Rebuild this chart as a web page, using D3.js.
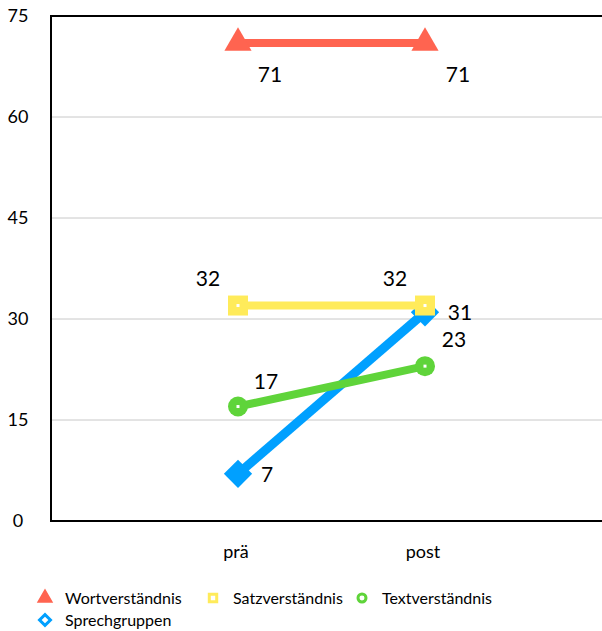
<!DOCTYPE html>
<html>
<head>
<meta charset="utf-8">
<script src="https://cdn.jsdelivr.net/npm/d3@7"></script>
<style>
  body { margin: 0; background: #fff; }
  text { font-family: Lato, "Open Sans", sans-serif; fill: #000; }
</style>
</head>
<body>
<svg id="chart" width="602" height="631"></svg>
<script>
// data
var categories = ['prä', 'post'];
var seriesNames = ['Wortverständnis', 'Satzverständnis', 'Textverständnis', 'Sprechgruppen'];
var wortValues = [71, 71];
var satzValues = [32, 32];
var textValues = [17, 23];
var sprechValues = [7, 31];
var yTicks = [0, 15, 30, 45, 60, 75];

var colors = ['#ff6450', '#ffeb5a', '#5fd43a', '#00a0ff'];
var symbols = [d3.symbolTriangle, d3.symbolSquare, d3.symbolCircle, d3.symbolSquare];
var rotations = [0, 0, 0, 45];
var markerSizes = [320, 400, 314, 400];
var allValues = [wortValues, satzValues, textValues, sprechValues];
// label offsets per series (dx, dy per point)
var labelOffsets = [
  [[32, 39], [33, 39]],
  [[-30, -20], [-30, -20]],
  [[28, -18], [29, -19]],
  [[29, 8], [35, 8]]
];
// Sprechgruppen sits under the others
var drawOrder = [3, 0, 1, 2];

var svg = d3.select('#chart');
var plotLeft = 51, plotRight = 612, plotTop = 16, plotBottom = 521;

var x = d3.scalePoint().domain(categories).range([plotLeft, plotRight]).padding(1);
var y = d3.scaleLinear().domain([0, 75]).range([plotBottom, plotTop]);

// gridlines
svg.append('g').selectAll('line')
    .data(yTicks.filter(function(d) { return d > 0 && d < 75; }))
    .enter().append('line')
    .attr('x1', plotLeft).attr('x2', plotRight)
    .attr('y1', function(d) { return y(d); })
    .attr('y2', function(d) { return y(d); })
    .attr('stroke', '#c8c8c8')
    .attr('stroke-width', 1);

// frame
svg.append('rect')
    .attr('x', plotLeft).attr('y', plotTop)
    .attr('width', plotRight - plotLeft).attr('height', plotBottom - plotTop)
    .attr('fill', 'none')
    .attr('stroke', '#000')
    .attr('stroke-width', 2);

// y axis labels
svg.append('g').selectAll('text')
    .data(yTicks)
    .enter().append('text')
    .attr('x', 18)
    .attr('y', function(d) { return y(d) + 6; })
    .attr('text-anchor', 'middle')
    .style('font-size', '18px')
    .text(function(d) { return d; });

// x axis labels
svg.append('g').selectAll('text')
    .data(categories)
    .enter().append('text')
    .attr('x', function(d) { return x(d) - 2; })
    .attr('y', 558)
    .attr('text-anchor', 'middle')
    .style('font-size', '18px')
    .text(function(d) { return d; });

var line = d3.line()
    .x(function(d, i) { return x(categories[i]); })
    .y(function(d) { return y(d); });

drawOrder.forEach(function(s) {
  var vals = allValues[s];
  var g = svg.append('g');
  g.append('path')
      .attr('d', line(vals))
      .attr('fill', 'none')
      .attr('stroke', colors[s])
      .attr('stroke-width', s === 3 ? 9 : 8);

  g.selectAll('path.mark')
      .data(vals)
      .enter().append('path')
      .attr('class', 'mark')
      .attr('transform', function(d, i) {
        return 'translate(' + x(categories[i]) + ',' + y(d) + ') rotate(' + rotations[s] + ')';
      })
      .attr('d', d3.symbol().type(symbols[s]).size(markerSizes[s]))
      .attr('fill', colors[s]);

  if (s === 1 || s === 2) {
    g.selectAll('rect.dot')
        .data(vals)
        .enter().append('rect')
        .attr('class', 'dot')
        .attr('x', function(d, i) { return x(categories[i]) - 1.5; })
        .attr('y', function(d) { return y(d) - 1.5; })
        .attr('width', 3).attr('height', 3)
        .attr('fill', '#fff');
  }

  g.selectAll('text')
      .data(vals)
      .enter().append('text')
      .attr('x', function(d, i) { return x(categories[i]) + labelOffsets[s][i][0]; })
      .attr('y', function(d, i) { return y(d) + labelOffsets[s][i][1]; })
      .attr('text-anchor', 'middle')
      .style('font-size', '21px')
      .text(function(d) { return d; });
});

// legend
var legendItems = [
  { x: 45, y: 598 },
  { x: 213, y: 598 },
  { x: 362, y: 598 },
  { x: 45, y: 620 }
];
var legendSizes = [55, 55, 50, 60];
var legend = svg.append('g');
seriesNames.forEach(function(name, s) {
  var p = legendItems[s];
  legend.append('path')
      .attr('transform', 'translate(' + p.x + ',' + p.y + ') rotate(' + rotations[s] + ')')
      .attr('d', d3.symbol().type(symbols[s]).size(legendSizes[s]))
      .attr('fill', s === 0 ? colors[s] : '#fff')
      .attr('stroke', colors[s])
      .attr('stroke-width', 3);
  legend.append('text')
      .attr('x', p.x + 20)
      .attr('y', p.y + 6)
      .style('font-size', '16px')
      .text(name);
});
</script>
</body>
</html>
